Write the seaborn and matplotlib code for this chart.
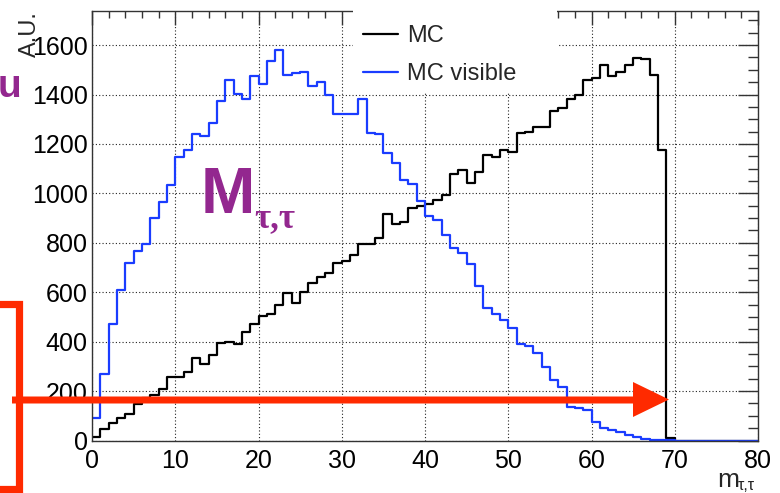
import numpy as np
import seaborn as sns
import matplotlib
matplotlib.use("Agg")
import matplotlib.pyplot as plt
from matplotlib.ticker import MultipleLocator
from matplotlib.lines import Line2D
from matplotlib.patches import Polygon, Rectangle

# ---------------- data ----------------
bin_edges = list(range(0, 81))
mc = [15, 46, 72, 90, 106, 147, 170, 184, 207, 258,
      258, 276, 333, 309, 347, 393, 397, 389, 438, 471,
      503, 510, 550, 595, 558, 601, 639, 662, 676, 720,
      725, 752, 795, 795, 818, 915, 875, 884, 942, 947,
      955, 972, 995, 1077, 1096, 1042, 1086, 1156, 1147, 1176,
      1167, 1244, 1248, 1268, 1268, 1335, 1345, 1380, 1400, 1457,
      1466, 1521, 1473, 1493, 1520, 1548, 1543, 1477, 1176, 12,
      0, 0, 0, 0, 0, 0, 0, 0, 0, 0]
mc_visible = [92, 271, 471, 607, 718, 766, 797, 900, 966, 1032,
              1148, 1175, 1240, 1232, 1283, 1372, 1459, 1403, 1380, 1473,
              1442, 1537, 1579, 1477, 1489, 1492, 1436, 1451, 1399, 1322,
              1322, 1322, 1380, 1245, 1240, 1164, 1124, 1053, 1038, 971,
              910, 891, 830, 780, 760, 716, 624, 538, 511, 487,
              457, 390, 383, 355, 298, 244, 217, 137, 132, 125,
              76, 52, 42, 36, 22, 13, 8, 3, 2, 1,
              0, 0, 0, 0, 0, 0, 0, 0, 0, 0]
series_labels = ["MC", "MC visible"]
y_title = "A.U."
x_title_main = "m"
x_title_sub = "τ,τ"
annot_main = "M"
annot_sub = "τ,τ"
annot_cut = "u"

# ---------------- style ----------------
sns.set_theme(style="white")
plt.rcParams['font.family'] = ['Liberation Sans', 'DejaVu Sans']

BLACK = "#000000"
BLUE = "#1a3cff"
PURPLE = "#93278f"
RED = "#ff2a00"

W, H = 780, 493
fig = plt.figure(figsize=(W / 100, H / 100), dpi=100)


def fx(x):
    return x / W


def fy(y):
    return 1 - y / H


L, R, T, B = 92, 758, 11, 440.5
ax = fig.add_axes([fx(L), fy(B), (R - L) / W, (B - T) / H])

centers = np.array(bin_edges[:-1]) + 0.5
sns.histplot(x=centers, weights=mc, bins=bin_edges, element="step", fill=False,
             color=BLACK, linewidth=1.6, label=series_labels[0], ax=ax)
sns.histplot(x=centers, weights=mc_visible, bins=bin_edges, element="step", fill=False,
             color=BLUE, linewidth=1.6, label=series_labels[1], ax=ax)

ax.set_xlim(0, 80)
ax.set_ylim(0, 1738)
ax.set_xlabel("")
ax.set_ylabel("")

ax.xaxis.set_major_locator(MultipleLocator(10))
ax.xaxis.set_minor_locator(MultipleLocator(2))
ax.yaxis.set_major_locator(MultipleLocator(200))
ax.yaxis.set_minor_locator(MultipleLocator(50))

ax.grid(True, which="major", color="#222222", linestyle=(0, (1, 2)), linewidth=0.8)
ax.set_axisbelow(True)

ax.tick_params(axis="both", which="both", direction="in", top=True, right=True,
               color="#333333", labelcolor="black", labelsize=18, width=1)
ax.tick_params(axis="x", which="major", length=10, pad=6)
ax.tick_params(axis="x", which="minor", length=5)
ax.tick_params(axis="y", which="major", length=14.5, pad=3)
ax.tick_params(axis="y", which="minor", length=7.5)
for s in ax.spines.values():
    s.set_color("#333333")
    s.set_linewidth(1)

# legend with white background, no frame
ax.add_patch(Rectangle((fx(353), fy(92)), (557 - 353) / W, (92 - 8) / H,
                       transform=fig.transFigure, facecolor="white",
                       edgecolor="none", zorder=4, clip_on=False))
leg = ax.legend(loc="upper left", bbox_to_anchor=(fx(363), fy(25)),
                bbox_transform=fig.transFigure, frameon=False, fontsize=17,
                handlelength=1.48, handletextpad=0.38, borderpad=0,
                borderaxespad=0, labelspacing=0.68)
leg.set_zorder(5)

# axis titles
fig.text(fx(30), fy(11), y_title, rotation=90, ha="center", va="top", fontsize=17)
fig.text(fx(717), fy(487), x_title_main, fontsize=19, ha="left", va="baseline")
fig.text(fx(738), fy(490), x_title_sub, fontsize=11.5, ha="left", va="baseline")

# annotations
fig.text(fx(201), fy(213), annot_main, fontsize=47, fontweight="bold",
         color=PURPLE, ha="left", va="baseline")
fig.text(fx(254), fy(227), annot_sub, fontsize=25, fontweight="bold",
         family=["Liberation Serif", "DejaVu Serif"], color=PURPLE,
         ha="left", va="baseline")
fig.text(fx(21), fy(97), annot_cut, fontsize=28, fontweight="bold",
         color=PURPLE, ha="right", va="baseline")

# red arrow
arrow_pts = [(12, 396.5), (633, 396.5), (633, 382), (669, 399.5),
             (633, 417), (633, 403.5), (12, 403.5)]
fig.add_artist(Polygon([(fx(x), fy(y)) for x, y in arrow_pts], closed=True,
                       transform=fig.transFigure, facecolor=RED,
                       edgecolor="none", zorder=10))
# red bracket
bx = [-5, 18.5, 18.5, -5]
by = [304, 304, 488.5, 488.5]
fig.add_artist(Line2D([fx(x) for x in bx], [fy(y) for y in by],
                      transform=fig.transFigure, color=RED, linewidth=5.2,
                      solid_joinstyle="miter", solid_capstyle="butt", zorder=10))

fig.savefig("out.png", dpi=100)
